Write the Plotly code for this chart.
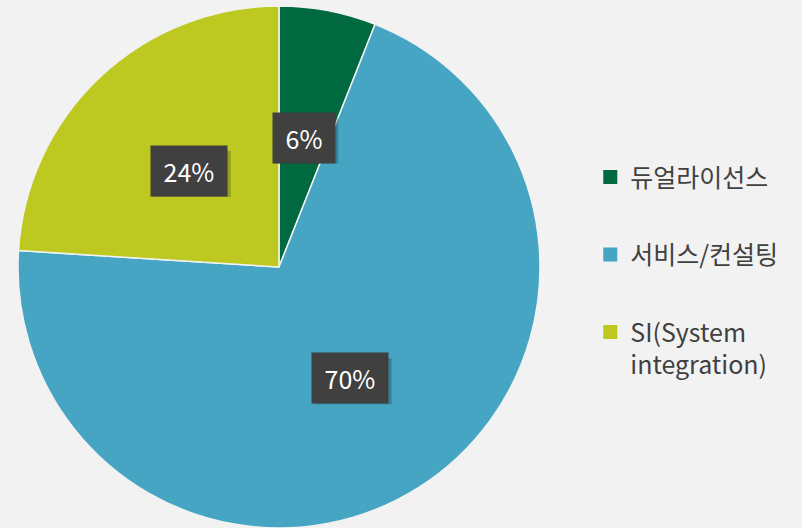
import math
import plotly.graph_objects as go

categories = ["듀얼라이선스", "서비스/컨설팅", "SI(System<br>integration)"]
values = [6, 70, 24]
label_texts = ["6%", "70%", "24%"]
colors = ["#006940", "#45A5C2", "#BDC920"]

W, H = 802, 528
R = 261
CX, CY = 279, 267  # pixels from left / top

dx0, dx1 = (CX - R) / W, (CX + R) / W
dy0, dy1 = (H - CY - R) / H, (H - CY + R) / H

fig = go.Figure()
fig.add_trace(go.Pie(
    labels=categories, values=values, sort=False, direction="clockwise", rotation=0,
    marker=dict(colors=colors, line=dict(color="#F2F2F2", width=1.5)),
    textinfo="none", hoverinfo="label+percent", showlegend=False,
    domain=dict(x=[dx0, dx1], y=[max(dy0, 0), dy1]),
))

# legend entries
for i, (c, col) in enumerate(zip(categories, colors)):
    fig.add_trace(go.Scatter(
        x=[None], y=[None], mode="markers", name=c, legendgroup=f"g{i}",
        marker=dict(symbol="square", size=14, color=col),
    ))

# percentage labels computed along slice bisectors
total = sum(values)
cum = 0
for v, t in zip(values, label_texts):
    mid = (cum + v / 2) / total * 2 * math.pi
    cum += v
    px = CX + 0.505 * R * math.sin(mid)
    py = CY - 0.505 * R * math.cos(mid)
    ax, ay = px / W, 1 - py / H
    bw = 15 * len(t) + 33
    bh = 46
    fig.add_shape(type="rect", xref="paper", yref="paper",
                  xsizemode="pixel", ysizemode="pixel", xanchor=ax, yanchor=ay,
                  x0=-bw / 2 + 3, x1=bw / 2 + 3, y0=-bh / 2 - 3, y1=bh / 2 - 3,
                  fillcolor="rgba(0,0,0,0.22)", line=dict(width=0), layer="above")
    fig.add_annotation(x=ax, y=ay, xref="paper", yref="paper", xanchor="center", yanchor="middle",
                       text="&nbsp;" + t + "&nbsp;", showarrow=False,
                       borderpad=7, bgcolor="#404040",
                       font=dict(size=25, family="Noto Sans CJK KR", color="white"))

fig.update_layout(
    width=W, height=H,
    margin=dict(l=0, r=0, t=0, b=0),
    paper_bgcolor="#F2F2F2", plot_bgcolor="#F2F2F2",
    font=dict(family="Noto Sans CJK KR", color="#404040"),
    xaxis=dict(visible=False), yaxis=dict(visible=False),
    legend=dict(x=0.736, y=0.708, xanchor="left", yanchor="top",
                font=dict(size=25, color="#404040"), traceorder="grouped",
                tracegroupgap=42, valign="top", itemwidth=30,
                bgcolor="rgba(0,0,0,0)"),
)

fig.write_html("out.html", config={"displayModeBar": False},
               post_script="document.body.style.margin='0';document.body.style.padding='0';")
